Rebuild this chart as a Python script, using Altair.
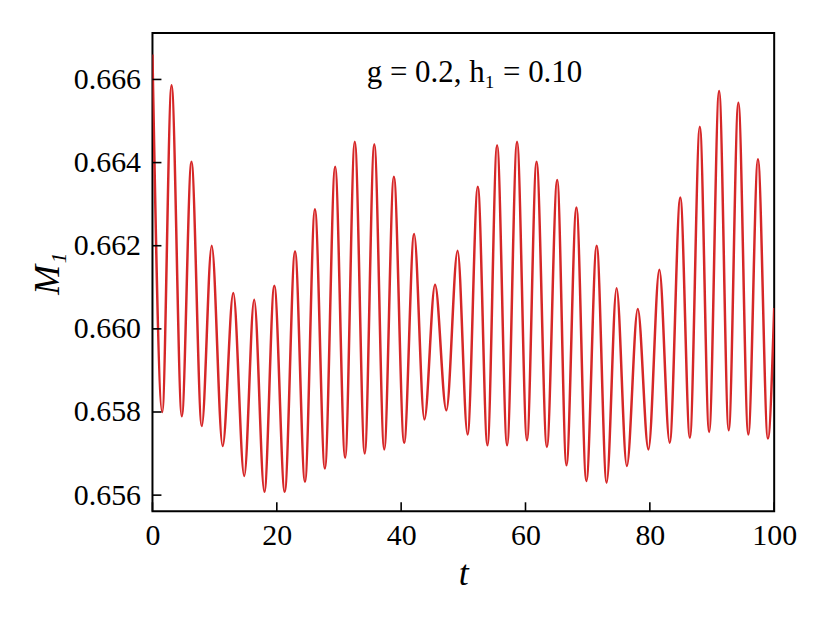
import altair as alt
import pandas as pd

# extrema of the oscillating curve
t_ext = [0, 1.57, 3.07, 4.72, 6.27, 7.93, 9.53, 11.29, 13.0, 14.76, 16.36, 18.0,
         19.6, 21.27, 22.93, 24.53, 26.13, 27.73, 29.38, 30.99, 32.54, 34.14,
         35.68, 37.28, 38.83, 40.48, 42.08, 43.74, 45.45, 47.27, 49.08, 50.68,
         52.33, 53.88, 55.43, 57.04, 58.64, 60.24, 61.78, 63.44, 65.1, 66.59,
         68.19, 69.79, 71.45, 73.05, 74.65, 76.3, 78.06, 79.77, 81.53, 83.19,
         84.9, 86.44, 88.04, 89.54, 91.14, 92.69, 94.24, 95.84, 97.39, 98.99, 100]
m_ext = [0.6666, 0.6580, 0.66586, 0.6579, 0.66402, 0.65766, 0.6620, 0.65718,
         0.66086, 0.65646, 0.6607, 0.65608, 0.66104, 0.65608, 0.66186, 0.65632,
         0.66288, 0.65664, 0.6639, 0.6569, 0.6645, 0.6570, 0.66444, 0.6571,
         0.66366, 0.65726, 0.66228, 0.65782, 0.66106, 0.65804, 0.66188, 0.65746,
         0.66342, 0.6572, 0.66442, 0.6572, 0.6645, 0.65732, 0.66402, 0.65716,
         0.66358, 0.65672, 0.66292, 0.65634, 0.6620, 0.6563, 0.66098, 0.6567,
         0.66048, 0.6571, 0.66142, 0.65726, 0.66316, 0.65738, 0.66486, 0.65752,
         0.66572, 0.65756, 0.66544, 0.65746, 0.66408, 0.65736, 0.6605]

x_ticks = [0, 20, 40, 60, 80, 100]
y_ticks = [0.656, 0.658, 0.660, 0.662, 0.664, 0.666]
x_domain = [0, 100]
y_domain = [0.655612, 0.667117]

label_text = "g = 0.2, h\u2081 = 0.10"
label_t = [51.8]
label_m = [0.66594]

FONT = "Liberation Serif"
W, H = 624, 480

df = pd.DataFrame({"t": t_ext, "M": m_ext})
xs = alt.Scale(domain=x_domain, nice=False, zero=False)
ys = alt.Scale(domain=y_domain, nice=False, zero=False)

x_axis = alt.Axis(
    values=x_ticks, format="d", title="t", ticks=False, domain=False, grid=False,
    labelFont=FONT, labelFontSize=30, labelColor="black", labelPadding=9,
    labelFlush=False,
    titleFont=FONT, titleFontSize=36, titleFontStyle="italic", titleFontWeight="normal",
    titleColor="black", titleX=W / 2, titleY=74, titleBaseline="alphabetic",
    titleAlign="center")
y_axis = alt.Axis(
    values=y_ticks, format=".3f", title="M\u2081", ticks=False, domain=False, grid=False,
    labelFont=FONT, labelFontSize=30, labelColor="black", labelPadding=12,
    labelFlush=False,
    titleFont=FONT, titleFontSize=36, titleFontStyle="italic", titleFontWeight="normal",
    titleColor="black", titleX=-105, titleY=241, titleAngle=270,
    titleBaseline="middle", titleAlign="center")

line = alt.Chart(df).mark_line(
    color="#d62728", strokeWidth=2.5, interpolate="monotone", clip=True
).encode(
    x=alt.X("t:Q", scale=xs, axis=x_axis),
    y=alt.Y("M:Q", scale=ys, axis=y_axis),
)

ytick = alt.Chart(pd.DataFrame({"M": y_ticks})).mark_rule(
    color="black", strokeWidth=1.6
).encode(
    y=alt.Y("M:Q", scale=ys, axis=y_axis),
    x=alt.value(0), x2=alt.value(9),
)

xtick = alt.Chart(pd.DataFrame({"t": x_ticks})).mark_rule(
    color="black", strokeWidth=1.6
).encode(
    x=alt.X("t:Q", scale=xs, axis=x_axis),
    y=alt.value(H), y2=alt.value(H - 9),
)

label = alt.Chart(pd.DataFrame({"t": label_t, "M": label_m, "s": [label_text]})).mark_text(
    font=FONT, fontSize=31, align="center", baseline="alphabetic", color="black"
).encode(
    x=alt.X("t:Q", scale=xs, axis=x_axis),
    y=alt.Y("M:Q", scale=ys, axis=y_axis),
    text="s:N",
)

chart = alt.layer(line, ytick, xtick, label).properties(
    width=W, height=H,
    autosize=alt.AutoSizeParams(type="none"),
    padding={"left": 145, "top": 24, "right": 50, "bottom": 100},
).configure(background="white").configure_view(stroke="black", strokeWidth=2)

chart.save("out.html", embed_options={"renderer": "svg", "actions": False})
